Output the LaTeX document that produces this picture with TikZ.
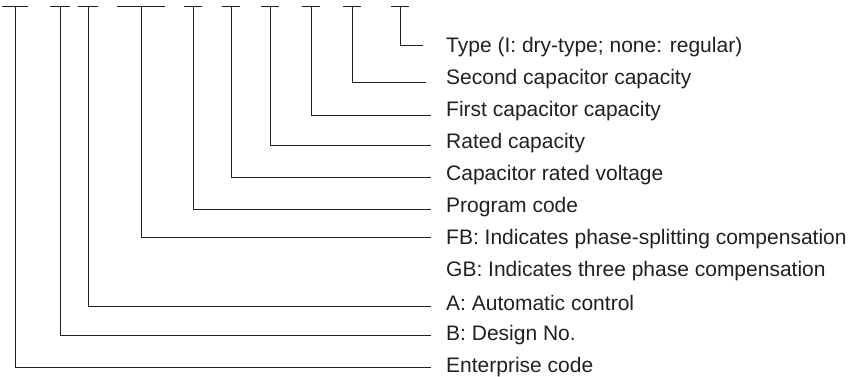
\documentclass[tikz,border=0pt]{standalone}
\usepackage{fontspec}
\setmainfont{Liberation Sans}
\definecolor{inkgray}{RGB}{35,31,32}
\begin{document}
\begin{tikzpicture}[
  x=1pt, y=-1pt,
  label/.style={anchor=west, inner sep=0pt, text=inkgray,
    font=\fontsize{21}{24}\selectfont},
  lead/.style={draw=inkgray, line width=0.9pt}
]
\useasboundingbox (0,0) rectangle (853,376);

% labels
\node[label] (type)  at (446,47)  {Type (I: dry-type; none: regular)};
\node[label] (cap2)  at (446,79)  {Second capacitor capacity};
\node[label] (cap1)  at (446,111) {First capacitor capacity};
\node[label] (rated) at (446,143) {Rated capacity};
\node[label] (volt)  at (446,175) {Capacitor rated voltage};
\node[label] (prog)  at (446,207) {Program code};
\node[label] (fb)    at (446,239) {FB: Indicates phase-splitting compensation};
\node[label] (gb)    at (446,271) {GB: Indicates three phase compensation};
\node[label] (auto)  at (446,303) {A: Automatic control};
\node[label] (dsgn)  at (446,335) {B: Design No.};
\node[label] (ent)   at (446,367) {Enterprise code};

% line ends
\coordinate (e-type)  at (423,45);
\coordinate (e-cap2)  at (426,82);
\coordinate (e-cap1)  at (431,115);
\coordinate (e-rated) at (431,145);
\coordinate (e-volt)  at (431,177);
\coordinate (e-prog)  at (431,209);
\coordinate (e-fb)    at (431,237);
\coordinate (e-auto)  at (431,306);
\coordinate (e-dsgn)  at (431,335);
\coordinate (e-ent)   at (431,367);

% code positions with their top bars
\foreach \n/\x/\w in {ent/15/13, dsgn/60/10, auto/88/10, fb/141/24,
    prog/193/9, volt/231/9, rated/270/9, cap1/311/9, cap2/352/9, type/400/9}
{
  \coordinate (t-\n) at (\x,6.5);
  \draw[lead] ([xshift=-\w pt]t-\n) -- ([xshift=\w pt]t-\n);
  \draw[lead] (t-\n) |- (e-\n);
}

\end{tikzpicture}
\end{document}
